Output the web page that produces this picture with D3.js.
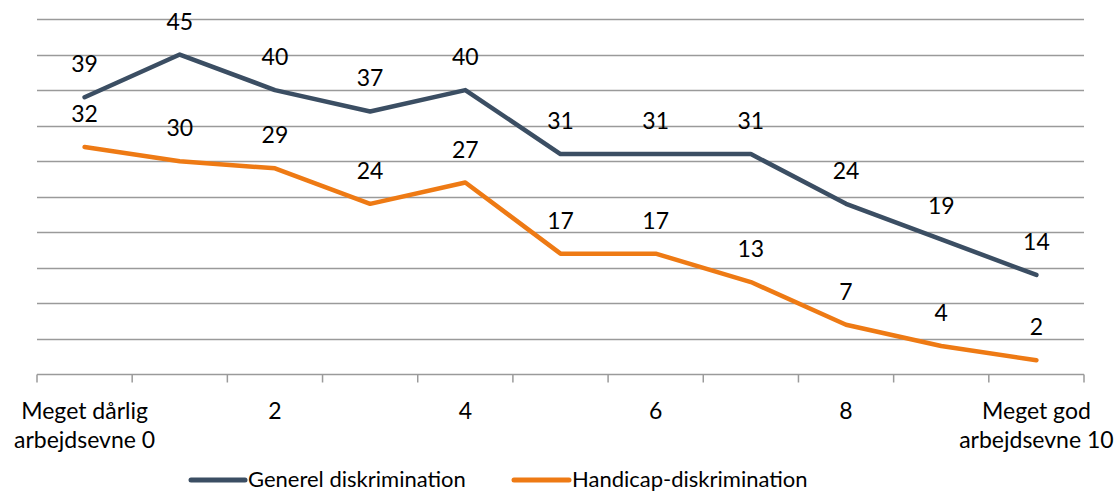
<!DOCTYPE html>
<html>
<head>
<meta charset="utf-8">
<script src="https://cdn.jsdelivr.net/npm/d3@7"></script>
<style>
  body { margin: 0; background: #fff; }
  svg { display: block; }
  text { font-family: "Lato", "Open Sans", sans-serif; fill: #000; }
</style>
</head>
<body>
<svg id="chart" width="1120" height="492"></svg>
<script>
const categories = ["0","1","2","3","4","5","6","7","8","9","10"];
const tickLabels = [["Meget dårlig","arbejdsevne 0"],[""],["2"],[""],["4"],[""],["6"],[""],["8"],[""],["Meget god","arbejdsevne 10"]];
const generel = [39,45,40,37,40,31,31,31,24,19,14];
const handicap = [32,30,29,24,27,17,17,13,7,4,2];
const seriesNames = ["Generel diskrimination","Handicap-diskrimination"];
const yTicks = [0,5,10,15,20,25,30,35,40,45,50];

(function() {
const colors = ["#3B4E63", "#EE7A14"];
const svg = d3.select("#chart");
const mLeft = 37, mRight = 1084, mTop = 19, mBottom = 374.5;
const fs = 23;

const x = d3.scaleBand().domain(categories).range([mLeft, mRight]).padding(0);
const y = d3.scaleLinear().domain([0, 50]).range([mBottom, mTop]);

// gridlines
svg.append("g").selectAll("line").data(yTicks.filter(d => d > 0)).join("line")
  .attr("x1", mLeft).attr("x2", mRight)
  .attr("y1", d => Math.round(y(d)) + 0.5).attr("y2", d => Math.round(y(d)) + 0.5)
  .attr("stroke", "#9a9a9a").attr("stroke-width", 1.5);

// x axis
const xAxis = svg.append("g").attr("transform", `translate(0,${mBottom})`);
xAxis.append("line").attr("x1", mLeft).attr("x2", mRight).attr("stroke", "#9a9a9a").attr("stroke-width", 1.5);
const bounds = categories.map(c => x(c)).concat([mRight]);
xAxis.selectAll("line.tick").data(bounds).join("line").attr("class","tick")
  .attr("x1", d => d).attr("x2", d => d).attr("y1", 0).attr("y2", 8)
  .attr("stroke", "#9a9a9a").attr("stroke-width", 1.5);
xAxis.selectAll("text.lbl").data(categories).join("text").attr("class","lbl")
  .attr("text-anchor", "middle")
  .attr("font-size", fs)
  .each(function(d, i) {
    const t = d3.select(this);
    tickLabels[i].forEach((s, j) => {
      t.append("tspan").attr("x", x(d) + x.bandwidth()/2).attr("y", 44 + j*29).text(s);
    });
  });

const line = d3.line().x((d, i) => x(categories[i]) + x.bandwidth()/2).y(d => y(d));
[generel, handicap].forEach((s, k) => {
  svg.append("path").datum(s).attr("d", line)
    .attr("fill", "none").attr("stroke", colors[k]).attr("stroke-width", 4.5)
    .attr("stroke-linejoin", "round").attr("stroke-linecap", "round");
  svg.append("g").selectAll("text").data(s).join("text")
    .attr("x", (d, i) => x(categories[i]) + x.bandwidth()/2)
    .attr("y", d => y(d) - 25)
    .attr("text-anchor", "middle").attr("font-size", fs)
    .text(d => d);
});

// legend
const legend = [{x1: 191, x2: 245, tx: 248}, {x1: 514, x2: 569, tx: 572}];
legend.forEach((l, k) => {
  svg.append("line").attr("x1", l.x1).attr("x2", l.x2).attr("y1", 480).attr("y2", 480)
    .attr("stroke", colors[k]).attr("stroke-width", 5).attr("stroke-linecap", "round");
  svg.append("text").attr("x", l.tx).attr("y", 487).attr("font-size", 22).text(seriesNames[k]);
});
})();
</script>
</body>
</html>
